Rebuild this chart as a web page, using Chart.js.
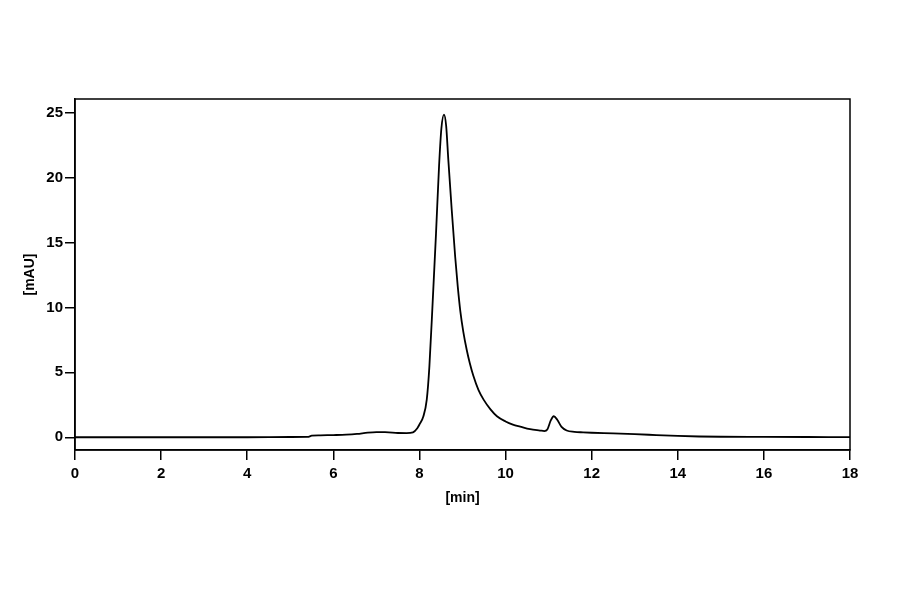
<!DOCTYPE html>
<html>
<head>
<meta charset="utf-8">
<style>
  html, body { margin: 0; padding: 0; background: #ffffff; }
  canvas { display: block; }
</style>
<script src="https://cdn.jsdelivr.net/npm/chart.js@4/dist/chart.umd.min.js"></script>
</head>
<body>
<canvas id="c" width="900" height="594"></canvas>
<script>
// Retention time [min]
const times = [
  0, 1, 2, 3, 4, 5, 5.4, 5.5, 5.7, 6.0, 6.3, 6.55, 6.8, 7.0, 7.2, 7.5, 7.7, 7.85, 7.95,
  8.01, 8.09, 8.17, 8.23, 8.31, 8.385, 8.455, 8.51, 8.57, 8.62, 8.67, 8.75, 8.83, 8.89,
  8.95, 9.02, 9.1, 9.17, 9.25, 9.37, 9.49, 9.65, 9.8, 10.0, 10.17, 10.34, 10.57, 10.8, 10.9,
  10.97, 11.05, 11.12, 11.2, 11.3, 11.42, 11.6, 11.8, 12.0, 12.5, 13.0, 13.5, 14.0,
  14.5, 15, 16, 17, 18
];
// Absorbance [mAU]
const absorbance = [
  0, 0, 0, 0, 0, 0.02, 0.03, 0.12, 0.15, 0.17, 0.2, 0.26, 0.36, 0.4, 0.4, 0.33, 0.32, 0.38, 0.7,
  1.05, 1.6, 2.9, 5.4, 10.6, 15.7, 20.85, 23.8, 24.85, 24.0, 21.4, 17.5, 13.9, 11.6,
  9.7, 8.1, 6.7, 5.7, 4.75, 3.65, 2.9, 2.15, 1.62, 1.22, 0.98, 0.82, 0.62, 0.52, 0.48,
  0.6, 1.3, 1.62, 1.35, 0.8, 0.52, 0.42, 0.38, 0.35, 0.3, 0.24, 0.17, 0.1,
  0.06, 0.04, 0.03, 0.02, 0.01
];
const xTicks = [0, 2, 4, 6, 8, 10, 12, 14, 16, 18];
const yTicks = [0, 5, 10, 15, 20, 25];
const xTitle = '[min]';
const yTitle = '[mAU]';

const points = times.map((t, i) => ({ x: t, y: absorbance[i] }));
const tickFont = { family: "'Liberation Sans', Arial, sans-serif", size: 15, weight: 'bold' };
const titleFont = { family: "'Liberation Sans', Arial, sans-serif", size: 14, weight: 'bold' };

const boxPlugin = {
  id: 'box',
  afterDraw(chart) {
    const a = chart.chartArea;
    const ctx = chart.ctx;
    ctx.save();
    ctx.strokeStyle = '#000';
    ctx.lineWidth = 1.5;
    ctx.strokeRect(a.left, a.top, a.right - a.left, a.bottom - a.top);
    ctx.restore();
  }
};

new Chart(document.getElementById('c'), {
  type: 'line',
  data: {
    datasets: [{
      data: points,
      borderColor: '#000',
      borderWidth: 1.8,
      pointRadius: 0,
      fill: false,
      cubicInterpolationMode: 'monotone'
    }]
  },
  options: {
    responsive: false,
    animation: false,
    devicePixelRatio: 1,
    layout: { padding: { top: 99, right: 50, left: 0, bottom: 0 } },
    plugins: { legend: { display: false }, tooltip: { enabled: false } },
    scales: {
      x: {
        type: 'linear',
        position: 'bottom',
        min: 0,
        max: 18,
        afterBuildTicks: s => { s.ticks = xTicks.map(v => ({ value: v })); },
        afterFit: s => { s.height = 144; },
        grid: { drawOnChartArea: false, drawTicks: true, tickLength: 10, color: '#000', lineWidth: 1.5 },
        border: { display: true, color: '#000', width: 1.5 },
        ticks: { color: '#000', font: tickFont, padding: 5, maxRotation: 0, autoSkip: false },
        title: { display: true, text: xTitle, color: '#000', font: titleFont, padding: { top: 0, bottom: 87 } }
      },
      y: {
        type: 'linear',
        position: 'left',
        min: -0.98,
        max: 26.05,
        afterBuildTicks: s => { s.ticks = yTicks.map(v => ({ value: v })); },
        afterFit: s => { s.width = 75; },
        grid: { drawOnChartArea: false, drawTicks: true, tickLength: 10, color: '#000', lineWidth: 1.5 },
        border: { display: true, color: '#000', width: 1.5 },
        ticks: { color: '#000', font: tickFont, padding: 2 },
        title: { display: true, text: yTitle, color: '#000', font: titleFont, padding: { top: 22, bottom: 0 } }
      }
    }
  },
  plugins: [boxPlugin]
});
</script>
</body>
</html>
